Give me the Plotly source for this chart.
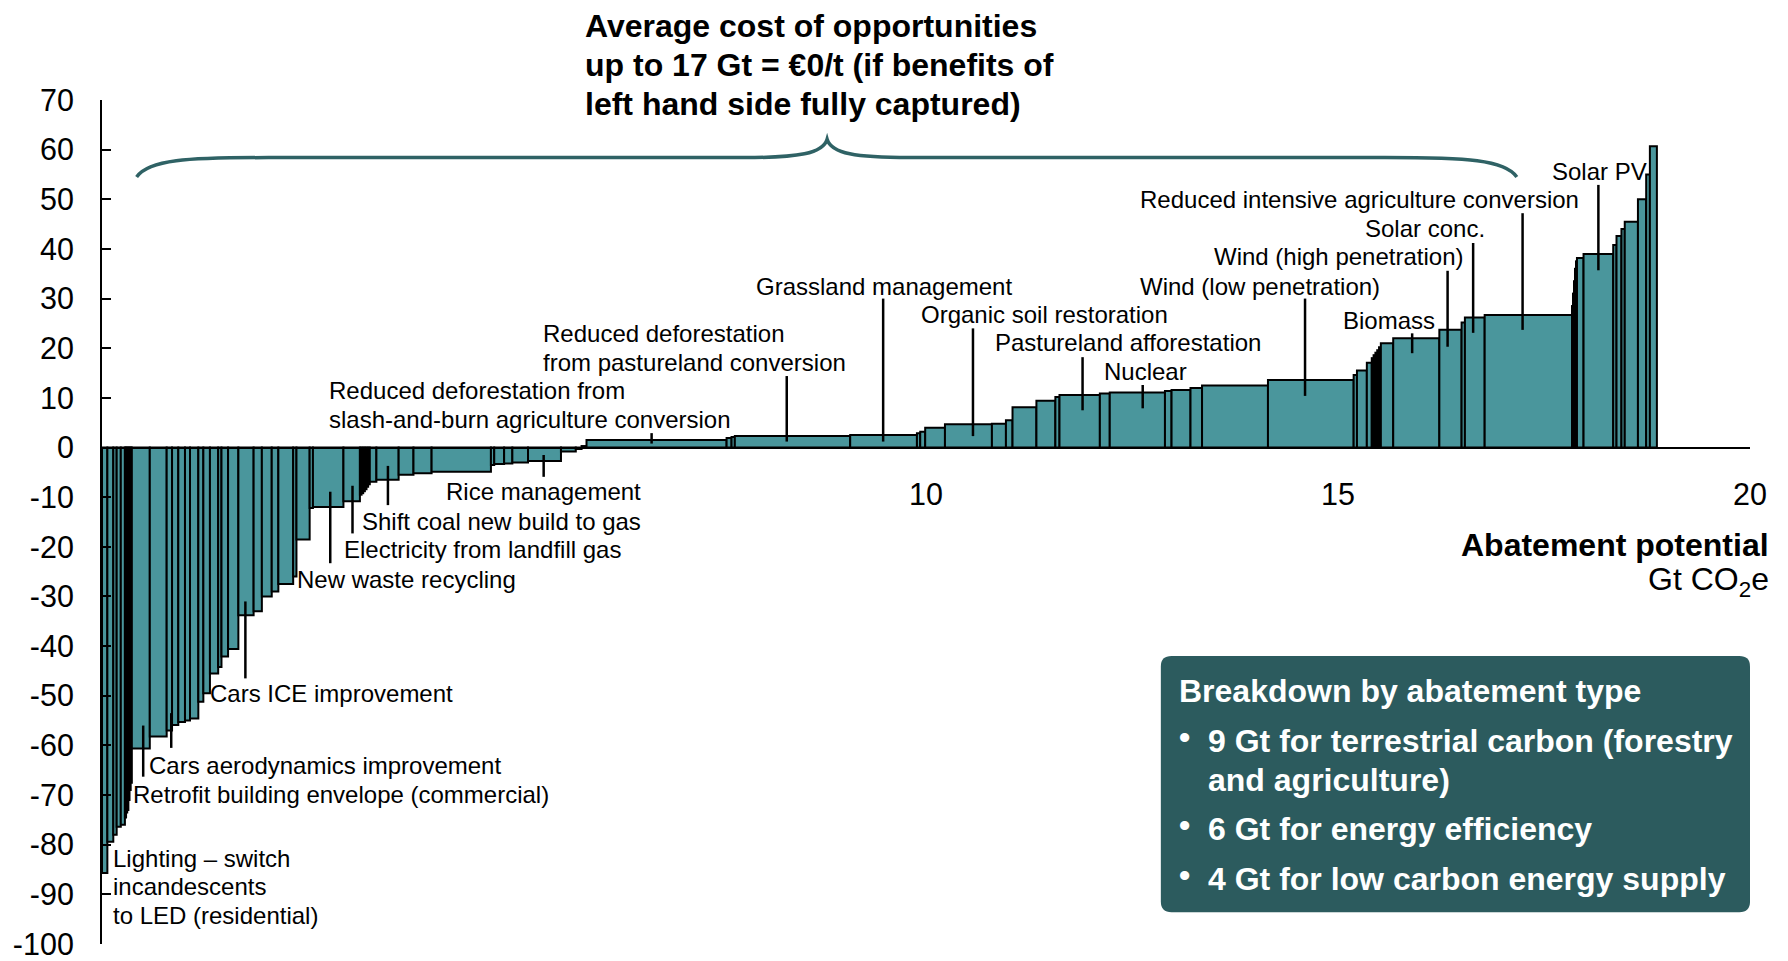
import plotly.graph_objects as go

# ---------------- data ----------------
# abatement potential (Gt CO2e) of each lever, in cost order
widths = [0.065, 0.072, 0.041, 0.05, 0.05,
          0.014, 0.014, 0.014, 0.014, 0.014, 0.014,
          0.218, 0.205, 0.065, 0.076, 0.081, 0.061, 0.101, 0.061, 0.08, 0.10,
          0.04, 0.08, 0.125, 0.185, 0.10, 0.12, 0.08, 0.18, 0.04, 0.16, 0.04,
          0.37, 0.20,
          0.02, 0.02, 0.02, 0.02, 0.02, 0.02,
          0.08, 0.27, 0.18, 0.22, 0.72, 0.04, 0.12, 0.10, 0.19, 0.40, 0.18,
          0.07, 0.06, 1.70, 0.06, 0.04, 1.40, 0.81, 0.04, 0.06, 0.24, 0.57,
          0.17, 0.08, 0.29, 0.23, 0.05, 0.49, 0.12, 0.67, 0.08, 0.23, 0.14,
          0.80, 1.04, 0.04, 0.12, 0.06,
          0.022, 0.022, 0.022, 0.022, 0.022,
          0.15, 0.56, 0.27, 0.04, 0.24, 1.06,
          0.012, 0.012, 0.012, 0.012, 0.012,
          0.08, 0.36, 0.04, 0.06, 0.04, 0.16, 0.10, 0.045, 0.085]
# abatement cost (EUR per t CO2e)
costs = [-85.7, -79.4, -78.0, -76.4, -76.0,
         -74.5, -73.5, -73.0, -71.0, -69.0, -67.5,
         -60.6, -58.2, -57.0, -55.9, -55.3, -55.0, -54.6, -51.2, -49.5, -45.5,
         -44.2, -42.1, -40.6, -33.8, -33.0, -30.0, -29.0, -27.5, -26.0, -18.5, -12.2,
         -12.0, -10.8,
         -9.5, -9.2, -8.8, -8.4, -7.9, -7.4,
         -6.9, -6.5, -5.5, -5.2, -4.9, -3.5, -3.3, -3.2, -3.0, -2.7, -0.8,
         -0.3, 0.3, 1.5, 1.9, 2.1, 2.3, 2.5, 2.9, 3.2, 4.0, 4.7,
         4.8, 5.5, 8.1, 9.4, 10.2, 10.6, 10.9, 11.1, 11.4, 11.6, 12.0,
         12.5, 13.6, 14.6, 15.5, 17.1,
         18.0, 18.6, 19.1, 19.6, 20.2,
         21.0, 22.0, 23.7, 25.2, 26.2, 26.7,
         28.5, 31.0, 33.5, 36.0, 37.5,
         38.2, 39.0, 40.8, 42.6, 44.0, 45.5, 50.0, 55.0, 60.7]

y_ticks = list(range(-100, 71, 10))
y_tick_labels = [str(v) for v in y_ticks]
x_ticks = [10, 15, 20]
x_tick_labels = ["10", "15", "20"]

# lever labels: (text, left x, centre y)
labels = [
    ("Lighting \u2013 switch", 0.11, -82.8),
    ("incandescents", 0.11, -88.5),
    ("to LED (residential)", 0.11, -94.3),
    ("Retrofit building envelope (commercial)", 0.355, -69.9),
    ("Cars aerodynamics improvement", 0.55, -64.0),
    ("Cars ICE improvement", 1.285, -49.5),
    ("New waste recycling", 2.345, -26.5),
    ("Electricity from landfill gas", 2.915, -20.6),
    ("Shift coal new build to gas", 3.125, -14.8),
    ("Rice management", 4.145, -8.9),
    ("Reduced deforestation from", 2.735, 11.4),
    ("slash-and-burn agriculture conversion", 2.735, 5.6),
    ("Reduced deforestation", 5.325, 23.0),
    ("from pastureland conversion", 5.325, 17.1),
    ("Grassland management", 7.915, 32.5),
    ("Organic soil restoration", 9.915, 26.7),
    ("Pastureland afforestation", 10.815, 21.2),
    ("Nuclear", 12.135, 15.3),
    ("Wind (low penetration)", 12.575, 32.5),
    ("Biomass", 15.035, 25.6),
    ("Wind (high penetration)", 13.475, 38.4),
    ("Solar conc.", 15.305, 44.2),
    ("Reduced intensive agriculture conversion", 12.575, 49.9),
    ("Solar PV", 17.575, 55.7),
]
# leader lines: (x, y top, y bottom)
leaders = [
    (0.50, -56.0, -66.3), (0.84, -53.5, -60.5), (1.74, -31.0, -46.5),
    (2.77, -8.9, -23.3), (3.04, -7.7, -17.3), (3.47, -3.7, -11.6),
    (5.36, -1.5, -5.9), (6.67, 2.9, 0.8), (8.31, 14.4, 1.2),
    (9.48, 30.0, 1.2), (10.57, 24.0, 2.3), (11.9, 18.2, 7.5),
    (12.63, 12.6, 7.9), (14.6, 30.0, 10.4), (15.9, 23.0, 19.0),
    (16.33, 35.6, 20.3), (16.64, 41.2, 23.1), (17.24, 47.2, 23.7),
    (18.16, 52.9, 35.7),
]

top_text = ["Average cost of opportunities",
            "up to 17 Gt = \u20ac0/t (if benefits of",
            "left hand side fully captured)"]
box_title = "Breakdown by abatement type"
box_lines = [("\u2022", "9 Gt for terrestrial carbon (forestry"),
             ("", "and agriculture)"),
             ("\u2022", "6 Gt for energy efficiency"),
             ("\u2022", "4 Gt for low carbon energy supply")]

# ---------------- style ----------------
TEAL = "#4A969C"
DARK = "#2C5B5E"
BRACE = "#2F6265"
FONT = "Liberation Sans, Arial, sans-serif"
BIG = 32

lefts = []
acc = 0.0
for w in widths:
    lefts.append(acc)
    acc += w
centers = [l + w / 2 for l, w in zip(lefts, widths)]

fig = go.Figure()
fig.add_trace(go.Bar(x=centers, y=costs, width=widths,
                     marker=dict(color=TEAL, line=dict(color="black", width=2)),
                     hoverinfo="skip", showlegend=False))

shapes = []
for x, y0, y1 in leaders:
    shapes.append(dict(type="line", xref="x", yref="y", x0=x, x1=x, y0=y0, y1=y1,
                       line=dict(color="black", width=2.5)))

# curly brace
bx0, bx1, bxc = 0.42, 17.17, 8.8
by_end, by_mid, by_tip = 54.5, 58.4, 62.1
brace_path = (f"M {bx0},{by_end} C {bx0+0.15},{by_mid-0.4} {bx0+0.6},{by_mid} {bx0+1.6},{by_mid} "
              f"L {bxc-1.0},{by_mid} C {bxc-0.35},{by_mid} {bxc-0.05},{by_mid+0.8} {bxc},{by_tip} "
              f"C {bxc+0.05},{by_mid+0.8} {bxc+0.35},{by_mid} {bxc+1.0},{by_mid} "
              f"L {bx1-1.6},{by_mid} C {bx1-0.6},{by_mid} {bx1-0.15},{by_mid-0.4} {bx1},{by_end}")
shapes.append(dict(type="path", xref="x", yref="y", path=brace_path,
                   line=dict(color=BRACE, width=3.5)))

# rounded box
X0, X1, Y0, Y1 = 12.85, 20.0, -93.6, -42.0
rx, ry = 0.13, 2.1
box_path = (f"M {X0+rx},{Y1} L {X1-rx},{Y1} Q {X1},{Y1} {X1},{Y1-ry} "
            f"L {X1},{Y0+ry} Q {X1},{Y0} {X1-rx},{Y0} L {X0+rx},{Y0} Q {X0},{Y0} {X0},{Y0+ry} "
            f"L {X0},{Y1-ry} Q {X0},{Y1} {X0+rx},{Y1} Z")
shapes.append(dict(type="path", xref="x", yref="y", path=box_path,
                   fillcolor=DARK, line=dict(width=0), layer="above"))

ann = []
for t, x, y in labels:
    ann.append(dict(text=t, x=x, y=y, xref="x", yref="y", xanchor="left", yanchor="middle",
                    showarrow=False, font=dict(family=FONT, size=24, color="black")))
top_y = [1.0877, 1.0415, 0.9953]
for t, y in zip(top_text, top_y):
    ann.append(dict(text=f"<b>{t}</b>", x=(583 - 102) / 1648, y=y, xref="paper", yref="paper",
                    xanchor="left", yanchor="middle", showarrow=False,
                    font=dict(family=FONT, size=BIG, color="black")))
ann.append(dict(text="<b>Abatement potential</b>", x=1.0128, y=-19.6, xref="paper", yref="y",
                xanchor="right", yanchor="middle", showarrow=False,
                font=dict(family=FONT, size=BIG, color="black")))
ann.append(dict(text="Gt CO<sub>2</sub>e", x=1.0128, y=-27.0, xref="paper", yref="y",
                xanchor="right", yanchor="middle", showarrow=False,
                font=dict(family=FONT, size=BIG, color="black")))
ann.append(dict(text=f"<b>{box_title}</b>", x=13.04, y=-49.0, xref="x", yref="y",
                xanchor="left", yanchor="middle", showarrow=False,
                font=dict(family=FONT, size=BIG, color="white")))
box_ys = [-59.1, -67.0, -76.8, -86.9]
for (b, t), y in zip(box_lines, box_ys):
    if b:
        ann.append(dict(text=f"<b>{b}</b>", x=13.05, y=y + 0.8, xref="x", yref="y",
                        xanchor="left", yanchor="middle", showarrow=False,
                        font=dict(family=FONT, size=BIG, color="white")))
    ann.append(dict(text=f"<b>{t}</b>", x=13.40, y=y, xref="x", yref="y",
                    xanchor="left", yanchor="middle", showarrow=False,
                    font=dict(family=FONT, size=BIG, color="white")))

fig.update_layout(
    width=1788, height=961,
    margin=dict(l=102, r=38, t=100, b=17, autoexpand=False),
    paper_bgcolor="white", plot_bgcolor="white",
    shapes=shapes, annotations=ann,
    showlegend=False, hovermode=False,
    font=dict(family=FONT, color="black"),
    xaxis=dict(range=[0, 20], anchor="free", position=100 / 170, automargin=False,
               tickvals=x_ticks, ticktext=x_tick_labels, ticks="",
               showline=True, linecolor="black", linewidth=2,
               showgrid=False, zeroline=False, ticklabelstandoff=20,
               tickfont=dict(family=FONT, size=30.5, color="black")),
    yaxis=dict(range=[-100, 70], tickvals=y_ticks, ticktext=y_tick_labels, automargin=False,
               ticks="inside", ticklen=9, tickwidth=2, tickcolor="black",
               showline=True, linecolor="black", linewidth=2,
               showgrid=False, zeroline=False, ticklabelstandoff=20,
               tickfont=dict(family=FONT, size=30.5, color="black")),
)

fig.write_html("out.html", config={"displayModeBar": False},
               post_script="document.body.style.margin='0';document.body.style.overflow='hidden';")
